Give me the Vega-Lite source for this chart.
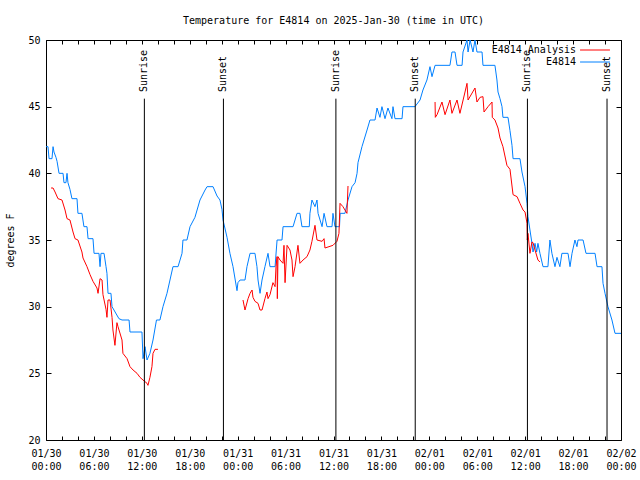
{
  "$schema": "https://vega.github.io/schema/vega-lite/v6.json",
  "width": 575,
  "height": 400,
  "autosize": {"type": "none"},
  "padding": {"left": 46, "top": 40, "right": 19, "bottom": 40},
  "background": "white",
  "title": {"text": "Temperature for E4814 on 2025-Jan-30 (time in UTC)", "font": "DejaVu Sans Mono", "fontSize": 10, "fontWeight": "normal", "anchor": "middle", "offset": 9, "color": "black"},
  "config": {
    "view": {"stroke": "black", "strokeWidth": 1},
    "axis": {"grid": false, "labelFont": "DejaVu Sans Mono", "labelFontSize": 10, "labelColor": "black", "titleFont": "DejaVu Sans Mono", "titleFontSize": 10, "titleFontWeight": "normal", "titleColor": "black", "domainColor": "black", "tickColor": "black"}
  },
  "datasets": {
    "temps": [
      {"t": "2025-01-30T00:00:00Z", "v": 42.0, "s": "E4814"},
      {"t": "2025-01-30T00:15:00Z", "v": 42.0, "s": "E4814"},
      {"t": "2025-01-30T00:23:00Z", "v": 41.1, "s": "E4814"},
      {"t": "2025-01-30T00:45:00Z", "v": 41.1, "s": "E4814"},
      {"t": "2025-01-30T00:53:00Z", "v": 42.0, "s": "E4814"},
      {"t": "2025-01-30T01:00:00Z", "v": 41.6, "s": "E4814"},
      {"t": "2025-01-30T01:15:00Z", "v": 41.2, "s": "E4814"},
      {"t": "2025-01-30T01:23:00Z", "v": 40.9, "s": "E4814"},
      {"t": "2025-01-30T01:38:00Z", "v": 40.0, "s": "E4814"},
      {"t": "2025-01-30T02:08:00Z", "v": 40.0, "s": "E4814"},
      {"t": "2025-01-30T02:15:00Z", "v": 39.3, "s": "E4814"},
      {"t": "2025-01-30T02:30:00Z", "v": 39.3, "s": "E4814"},
      {"t": "2025-01-30T02:38:00Z", "v": 40.0, "s": "E4814"},
      {"t": "2025-01-30T02:45:00Z", "v": 39.3, "s": "E4814"},
      {"t": "2025-01-30T03:00:00Z", "v": 38.8, "s": "E4814"},
      {"t": "2025-01-30T03:15:00Z", "v": 38.1, "s": "E4814"},
      {"t": "2025-01-30T03:53:00Z", "v": 38.1, "s": "E4814"},
      {"t": "2025-01-30T04:00:00Z", "v": 37.0, "s": "E4814"},
      {"t": "2025-01-30T04:30:00Z", "v": 37.0, "s": "E4814"},
      {"t": "2025-01-30T04:45:00Z", "v": 36.0, "s": "E4814"},
      {"t": "2025-01-30T05:08:00Z", "v": 36.0, "s": "E4814"},
      {"t": "2025-01-30T05:16:00Z", "v": 35.1, "s": "E4814"},
      {"t": "2025-01-30T05:53:00Z", "v": 35.1, "s": "E4814"},
      {"t": "2025-01-30T06:01:00Z", "v": 34.0, "s": "E4814"},
      {"t": "2025-01-30T06:38:00Z", "v": 34.0, "s": "E4814"},
      {"t": "2025-01-30T06:46:00Z", "v": 33.0, "s": "E4814"},
      {"t": "2025-01-30T06:53:00Z", "v": 34.0, "s": "E4814"},
      {"t": "2025-01-30T07:16:00Z", "v": 34.0, "s": "E4814"},
      {"t": "2025-01-30T07:31:00Z", "v": 33.0, "s": "E4814"},
      {"t": "2025-01-30T07:38:00Z", "v": 32.5, "s": "E4814"},
      {"t": "2025-01-30T07:46:00Z", "v": 31.0, "s": "E4814"},
      {"t": "2025-01-30T08:08:00Z", "v": 31.0, "s": "E4814"},
      {"t": "2025-01-30T08:16:00Z", "v": 30.0, "s": "E4814"},
      {"t": "2025-01-30T09:08:00Z", "v": 29.1, "s": "E4814"},
      {"t": "2025-01-30T09:31:00Z", "v": 29.0, "s": "E4814"},
      {"t": "2025-01-30T10:24:00Z", "v": 29.0, "s": "E4814"},
      {"t": "2025-01-30T10:31:00Z", "v": 28.1, "s": "E4814"},
      {"t": "2025-01-30T12:01:00Z", "v": 28.1, "s": "E4814"},
      {"t": "2025-01-30T12:09:00Z", "v": 26.1, "s": "E4814"},
      {"t": "2025-01-30T12:24:00Z", "v": 27.0, "s": "E4814"},
      {"t": "2025-01-30T12:39:00Z", "v": 26.0, "s": "E4814"},
      {"t": "2025-01-30T13:01:00Z", "v": 26.5, "s": "E4814"},
      {"t": "2025-01-30T13:24:00Z", "v": 27.5, "s": "E4814"},
      {"t": "2025-01-30T13:50:00Z", "v": 29.0, "s": "E4814"},
      {"t": "2025-01-30T14:16:00Z", "v": 29.0, "s": "E4814"},
      {"t": "2025-01-30T14:39:00Z", "v": 30.0, "s": "E4814"},
      {"t": "2025-01-30T15:09:00Z", "v": 31.0, "s": "E4814"},
      {"t": "2025-01-30T15:54:00Z", "v": 33.0, "s": "E4814"},
      {"t": "2025-01-30T16:32:00Z", "v": 33.0, "s": "E4814"},
      {"t": "2025-01-30T17:02:00Z", "v": 34.0, "s": "E4814"},
      {"t": "2025-01-30T17:09:00Z", "v": 35.0, "s": "E4814"},
      {"t": "2025-01-30T17:39:00Z", "v": 35.0, "s": "E4814"},
      {"t": "2025-01-30T18:02:00Z", "v": 36.0, "s": "E4814"},
      {"t": "2025-01-30T18:39:00Z", "v": 36.7, "s": "E4814"},
      {"t": "2025-01-30T19:17:00Z", "v": 38.0, "s": "E4814"},
      {"t": "2025-01-30T19:55:00Z", "v": 38.75, "s": "E4814"},
      {"t": "2025-01-30T20:10:00Z", "v": 39.0, "s": "E4814"},
      {"t": "2025-01-30T20:55:00Z", "v": 39.0, "s": "E4814"},
      {"t": "2025-01-30T21:25:00Z", "v": 38.3, "s": "E4814"},
      {"t": "2025-01-30T21:47:00Z", "v": 38.0, "s": "E4814"},
      {"t": "2025-01-30T22:02:00Z", "v": 37.3, "s": "E4814"},
      {"t": "2025-01-30T22:10:00Z", "v": 36.5, "s": "E4814"},
      {"t": "2025-01-30T22:40:00Z", "v": 35.2, "s": "E4814"},
      {"t": "2025-01-30T23:02:00Z", "v": 34.0, "s": "E4814"},
      {"t": "2025-01-30T23:25:00Z", "v": 33.0, "s": "E4814"},
      {"t": "2025-01-30T23:55:00Z", "v": 31.2, "s": "E4814"},
      {"t": "2025-01-31T00:02:00Z", "v": 31.8, "s": "E4814"},
      {"t": "2025-01-31T00:18:00Z", "v": 32.0, "s": "E4814"},
      {"t": "2025-01-31T00:55:00Z", "v": 32.0, "s": "E4814"},
      {"t": "2025-01-31T01:10:00Z", "v": 33.0, "s": "E4814"},
      {"t": "2025-01-31T01:33:00Z", "v": 34.0, "s": "E4814"},
      {"t": "2025-01-31T02:10:00Z", "v": 34.0, "s": "E4814"},
      {"t": "2025-01-31T02:25:00Z", "v": 33.0, "s": "E4814"},
      {"t": "2025-01-31T02:33:00Z", "v": 32.0, "s": "E4814"},
      {"t": "2025-01-31T02:48:00Z", "v": 31.0, "s": "E4814"},
      {"t": "2025-01-31T03:03:00Z", "v": 32.0, "s": "E4814"},
      {"t": "2025-01-31T03:25:00Z", "v": 33.0, "s": "E4814"},
      {"t": "2025-01-31T03:48:00Z", "v": 34.0, "s": "E4814"},
      {"t": "2025-01-31T04:03:00Z", "v": 33.0, "s": "E4814"},
      {"t": "2025-01-31T04:41:00Z", "v": 33.0, "s": "E4814"},
      {"t": "2025-01-31T04:56:00Z", "v": 35.0, "s": "E4814"},
      {"t": "2025-01-31T05:33:00Z", "v": 35.0, "s": "E4814"},
      {"t": "2025-01-31T05:41:00Z", "v": 36.0, "s": "E4814"},
      {"t": "2025-01-31T06:56:00Z", "v": 36.0, "s": "E4814"},
      {"t": "2025-01-31T07:26:00Z", "v": 37.0, "s": "E4814"},
      {"t": "2025-01-31T07:48:00Z", "v": 37.0, "s": "E4814"},
      {"t": "2025-01-31T08:03:00Z", "v": 36.0, "s": "E4814"},
      {"t": "2025-01-31T08:58:00Z", "v": 36.0, "s": "E4814"},
      {"t": "2025-01-31T09:03:00Z", "v": 37.0, "s": "E4814"},
      {"t": "2025-01-31T09:18:00Z", "v": 38.0, "s": "E4814"},
      {"t": "2025-01-31T09:41:00Z", "v": 37.5, "s": "E4814"},
      {"t": "2025-01-31T09:56:00Z", "v": 38.0, "s": "E4814"},
      {"t": "2025-01-31T10:04:00Z", "v": 37.0, "s": "E4814"},
      {"t": "2025-01-31T10:34:00Z", "v": 36.0, "s": "E4814"},
      {"t": "2025-01-31T10:49:00Z", "v": 37.0, "s": "E4814"},
      {"t": "2025-01-31T11:11:00Z", "v": 36.0, "s": "E4814"},
      {"t": "2025-01-31T11:49:00Z", "v": 36.0, "s": "E4814"},
      {"t": "2025-01-31T11:56:00Z", "v": 37.0, "s": "E4814"},
      {"t": "2025-01-31T12:11:00Z", "v": 36.0, "s": "E4814"},
      {"t": "2025-01-31T12:45:00Z", "v": 36.0, "s": "E4814"},
      {"t": "2025-01-31T12:50:00Z", "v": 37.0, "s": "E4814"},
      {"t": "2025-01-31T13:26:00Z", "v": 37.0, "s": "E4814"},
      {"t": "2025-01-31T13:49:00Z", "v": 38.0, "s": "E4814"},
      {"t": "2025-01-31T14:19:00Z", "v": 39.0, "s": "E4814"},
      {"t": "2025-01-31T14:42:00Z", "v": 39.3, "s": "E4814"},
      {"t": "2025-01-31T14:57:00Z", "v": 40.0, "s": "E4814"},
      {"t": "2025-01-31T15:04:00Z", "v": 40.8, "s": "E4814"},
      {"t": "2025-01-31T15:34:00Z", "v": 42.0, "s": "E4814"},
      {"t": "2025-01-31T16:12:00Z", "v": 43.25, "s": "E4814"},
      {"t": "2025-01-31T16:34:00Z", "v": 44.0, "s": "E4814"},
      {"t": "2025-01-31T17:12:00Z", "v": 44.0, "s": "E4814"},
      {"t": "2025-01-31T17:27:00Z", "v": 44.9, "s": "E4814"},
      {"t": "2025-01-31T17:49:00Z", "v": 44.2, "s": "E4814"},
      {"t": "2025-01-31T18:04:00Z", "v": 45.0, "s": "E4814"},
      {"t": "2025-01-31T18:27:00Z", "v": 44.1, "s": "E4814"},
      {"t": "2025-01-31T18:49:00Z", "v": 44.9, "s": "E4814"},
      {"t": "2025-01-31T19:19:00Z", "v": 44.1, "s": "E4814"},
      {"t": "2025-01-31T19:27:00Z", "v": 45.0, "s": "E4814"},
      {"t": "2025-01-31T19:42:00Z", "v": 44.1, "s": "E4814"},
      {"t": "2025-01-31T20:35:00Z", "v": 44.1, "s": "E4814"},
      {"t": "2025-01-31T20:42:00Z", "v": 45.0, "s": "E4814"},
      {"t": "2025-01-31T22:12:00Z", "v": 45.0, "s": "E4814"},
      {"t": "2025-01-31T22:50:00Z", "v": 45.5, "s": "E4814"},
      {"t": "2025-01-31T23:12:00Z", "v": 46.25, "s": "E4814"},
      {"t": "2025-01-31T23:42:00Z", "v": 47.0, "s": "E4814"},
      {"t": "2025-02-01T00:05:00Z", "v": 48.0, "s": "E4814"},
      {"t": "2025-02-01T00:20:00Z", "v": 47.25, "s": "E4814"},
      {"t": "2025-02-01T00:43:00Z", "v": 48.1, "s": "E4814"},
      {"t": "2025-02-01T02:35:00Z", "v": 48.1, "s": "E4814"},
      {"t": "2025-02-01T02:50:00Z", "v": 49.1, "s": "E4814"},
      {"t": "2025-02-01T03:13:00Z", "v": 49.1, "s": "E4814"},
      {"t": "2025-02-01T03:28:00Z", "v": 48.1, "s": "E4814"},
      {"t": "2025-02-01T04:06:00Z", "v": 48.1, "s": "E4814"},
      {"t": "2025-02-01T04:13:00Z", "v": 49.1, "s": "E4814"},
      {"t": "2025-02-01T04:43:00Z", "v": 50.0, "s": "E4814"},
      {"t": "2025-02-01T04:51:00Z", "v": 49.1, "s": "E4814"},
      {"t": "2025-02-01T05:06:00Z", "v": 50.0, "s": "E4814"},
      {"t": "2025-02-01T05:28:00Z", "v": 49.1, "s": "E4814"},
      {"t": "2025-02-01T05:43:00Z", "v": 50.0, "s": "E4814"},
      {"t": "2025-02-01T05:58:00Z", "v": 49.1, "s": "E4814"},
      {"t": "2025-02-01T06:36:00Z", "v": 49.1, "s": "E4814"},
      {"t": "2025-02-01T06:43:00Z", "v": 48.1, "s": "E4814"},
      {"t": "2025-02-01T08:13:00Z", "v": 48.1, "s": "E4814"},
      {"t": "2025-02-01T08:28:00Z", "v": 47.0, "s": "E4814"},
      {"t": "2025-02-01T08:36:00Z", "v": 46.1, "s": "E4814"},
      {"t": "2025-02-01T08:51:00Z", "v": 45.6, "s": "E4814"},
      {"t": "2025-02-01T09:06:00Z", "v": 45.0, "s": "E4814"},
      {"t": "2025-02-01T09:13:00Z", "v": 44.2, "s": "E4814"},
      {"t": "2025-02-01T09:51:00Z", "v": 44.2, "s": "E4814"},
      {"t": "2025-02-01T10:06:00Z", "v": 43.2, "s": "E4814"},
      {"t": "2025-02-01T10:21:00Z", "v": 42.1, "s": "E4814"},
      {"t": "2025-02-01T10:29:00Z", "v": 41.1, "s": "E4814"},
      {"t": "2025-02-01T11:21:00Z", "v": 41.1, "s": "E4814"},
      {"t": "2025-02-01T11:36:00Z", "v": 40.1, "s": "E4814"},
      {"t": "2025-02-01T11:59:00Z", "v": 39.0, "s": "E4814"},
      {"t": "2025-02-01T12:14:00Z", "v": 37.75, "s": "E4814"},
      {"t": "2025-02-01T12:21:00Z", "v": 36.75, "s": "E4814"},
      {"t": "2025-02-01T12:36:00Z", "v": 35.75, "s": "E4814"},
      {"t": "2025-02-01T12:51:00Z", "v": 34.75, "s": "E4814"},
      {"t": "2025-02-01T12:59:00Z", "v": 34.1, "s": "E4814"},
      {"t": "2025-02-01T13:14:00Z", "v": 34.75, "s": "E4814"},
      {"t": "2025-02-01T13:26:00Z", "v": 34.1, "s": "E4814"},
      {"t": "2025-02-01T13:36:00Z", "v": 34.75, "s": "E4814"},
      {"t": "2025-02-01T13:51:00Z", "v": 34.0, "s": "E4814"},
      {"t": "2025-02-01T14:14:00Z", "v": 33.0, "s": "E4814"},
      {"t": "2025-02-01T14:51:00Z", "v": 33.0, "s": "E4814"},
      {"t": "2025-02-01T15:06:00Z", "v": 35.0, "s": "E4814"},
      {"t": "2025-02-01T15:21:00Z", "v": 34.0, "s": "E4814"},
      {"t": "2025-02-01T15:44:00Z", "v": 33.0, "s": "E4814"},
      {"t": "2025-02-01T15:59:00Z", "v": 33.7, "s": "E4814"},
      {"t": "2025-02-01T16:21:00Z", "v": 33.0, "s": "E4814"},
      {"t": "2025-02-01T16:36:00Z", "v": 34.0, "s": "E4814"},
      {"t": "2025-02-01T17:22:00Z", "v": 34.0, "s": "E4814"},
      {"t": "2025-02-01T17:37:00Z", "v": 33.0, "s": "E4814"},
      {"t": "2025-02-01T17:52:00Z", "v": 34.0, "s": "E4814"},
      {"t": "2025-02-01T18:14:00Z", "v": 35.0, "s": "E4814"},
      {"t": "2025-02-01T18:29:00Z", "v": 34.5, "s": "E4814"},
      {"t": "2025-02-01T18:37:00Z", "v": 35.0, "s": "E4814"},
      {"t": "2025-02-01T19:15:00Z", "v": 35.0, "s": "E4814"},
      {"t": "2025-02-01T19:37:00Z", "v": 34.0, "s": "E4814"},
      {"t": "2025-02-01T20:45:00Z", "v": 34.0, "s": "E4814"},
      {"t": "2025-02-01T21:00:00Z", "v": 33.0, "s": "E4814"},
      {"t": "2025-02-01T21:37:00Z", "v": 33.0, "s": "E4814"},
      {"t": "2025-02-01T21:45:00Z", "v": 31.75, "s": "E4814"},
      {"t": "2025-02-01T22:00:00Z", "v": 31.0, "s": "E4814"},
      {"t": "2025-02-01T22:22:00Z", "v": 30.0, "s": "E4814"},
      {"t": "2025-02-01T22:52:00Z", "v": 29.0, "s": "E4814"},
      {"t": "2025-02-01T23:15:00Z", "v": 28.0, "s": "E4814"},
      {"t": "2025-02-02T00:00:00Z", "v": 28.0, "s": "E4814"},
      {"t": "2025-01-30T00:38:00Z", "v": 38.9, "s": "E4814 Analysis"},
      {"t": "2025-01-30T00:53:00Z", "v": 38.9, "s": "E4814 Analysis"},
      {"t": "2025-01-30T01:08:00Z", "v": 38.6, "s": "E4814 Analysis"},
      {"t": "2025-01-30T01:30:00Z", "v": 38.1, "s": "E4814 Analysis"},
      {"t": "2025-01-30T02:00:00Z", "v": 38.0, "s": "E4814 Analysis"},
      {"t": "2025-01-30T02:23:00Z", "v": 37.25, "s": "E4814 Analysis"},
      {"t": "2025-01-30T02:38:00Z", "v": 36.6, "s": "E4814 Analysis"},
      {"t": "2025-01-30T03:00:00Z", "v": 36.5, "s": "E4814 Analysis"},
      {"t": "2025-01-30T03:23:00Z", "v": 35.6, "s": "E4814 Analysis"},
      {"t": "2025-01-30T03:38:00Z", "v": 35.1, "s": "E4814 Analysis"},
      {"t": "2025-01-30T04:00:00Z", "v": 35.0, "s": "E4814 Analysis"},
      {"t": "2025-01-30T04:30:00Z", "v": 34.1, "s": "E4814 Analysis"},
      {"t": "2025-01-30T04:38:00Z", "v": 33.65, "s": "E4814 Analysis"},
      {"t": "2025-01-30T05:08:00Z", "v": 33.0, "s": "E4814 Analysis"},
      {"t": "2025-01-30T05:31:00Z", "v": 32.4, "s": "E4814 Analysis"},
      {"t": "2025-01-30T05:53:00Z", "v": 31.9, "s": "E4814 Analysis"},
      {"t": "2025-01-30T06:23:00Z", "v": 31.4, "s": "E4814 Analysis"},
      {"t": "2025-01-30T06:31:00Z", "v": 31.0, "s": "E4814 Analysis"},
      {"t": "2025-01-30T06:46:00Z", "v": 32.1, "s": "E4814 Analysis"},
      {"t": "2025-01-30T07:01:00Z", "v": 32.0, "s": "E4814 Analysis"},
      {"t": "2025-01-30T07:08:00Z", "v": 30.9, "s": "E4814 Analysis"},
      {"t": "2025-01-30T07:31:00Z", "v": 29.8, "s": "E4814 Analysis"},
      {"t": "2025-01-30T07:38:00Z", "v": 29.2, "s": "E4814 Analysis"},
      {"t": "2025-01-30T07:46:00Z", "v": 30.5, "s": "E4814 Analysis"},
      {"t": "2025-01-30T08:01:00Z", "v": 30.5, "s": "E4814 Analysis"},
      {"t": "2025-01-30T08:16:00Z", "v": 29.2, "s": "E4814 Analysis"},
      {"t": "2025-01-30T08:23:00Z", "v": 28.25, "s": "E4814 Analysis"},
      {"t": "2025-01-30T08:38:00Z", "v": 27.1, "s": "E4814 Analysis"},
      {"t": "2025-01-30T08:53:00Z", "v": 28.8, "s": "E4814 Analysis"},
      {"t": "2025-01-30T09:01:00Z", "v": 28.5, "s": "E4814 Analysis"},
      {"t": "2025-01-30T09:31:00Z", "v": 27.5, "s": "E4814 Analysis"},
      {"t": "2025-01-30T09:38:00Z", "v": 26.5, "s": "E4814 Analysis"},
      {"t": "2025-01-30T10:09:00Z", "v": 26.1, "s": "E4814 Analysis"},
      {"t": "2025-01-30T10:31:00Z", "v": 25.5, "s": "E4814 Analysis"},
      {"t": "2025-01-30T10:54:00Z", "v": 25.25, "s": "E4814 Analysis"},
      {"t": "2025-01-30T11:24:00Z", "v": 25.0, "s": "E4814 Analysis"},
      {"t": "2025-01-30T11:46:00Z", "v": 24.7, "s": "E4814 Analysis"},
      {"t": "2025-01-30T12:09:00Z", "v": 24.5, "s": "E4814 Analysis"},
      {"t": "2025-01-30T12:39:00Z", "v": 24.25, "s": "E4814 Analysis"},
      {"t": "2025-01-30T12:46:00Z", "v": 24.1, "s": "E4814 Analysis"},
      {"t": "2025-01-30T13:01:00Z", "v": 24.7, "s": "E4814 Analysis"},
      {"t": "2025-01-30T13:16:00Z", "v": 25.5, "s": "E4814 Analysis"},
      {"t": "2025-01-30T13:24:00Z", "v": 26.5, "s": "E4814 Analysis"},
      {"t": "2025-01-30T13:39:00Z", "v": 26.8, "s": "E4814 Analysis"},
      {"t": "2025-01-30T14:01:00Z", "v": 26.8, "s": "E4814 Analysis"},
      {"t": "2025-01-30T18:00:00Z", "v": null, "s": "E4814 Analysis"},
      {"t": "2025-01-31T00:40:00Z", "v": 30.5, "s": "E4814 Analysis"},
      {"t": "2025-01-31T00:55:00Z", "v": 29.75, "s": "E4814 Analysis"},
      {"t": "2025-01-31T01:18:00Z", "v": 30.6, "s": "E4814 Analysis"},
      {"t": "2025-01-31T01:33:00Z", "v": 31.0, "s": "E4814 Analysis"},
      {"t": "2025-01-31T01:48:00Z", "v": 31.25, "s": "E4814 Analysis"},
      {"t": "2025-01-31T01:55:00Z", "v": 30.7, "s": "E4814 Analysis"},
      {"t": "2025-01-31T02:10:00Z", "v": 30.4, "s": "E4814 Analysis"},
      {"t": "2025-01-31T02:33:00Z", "v": 30.25, "s": "E4814 Analysis"},
      {"t": "2025-01-31T02:48:00Z", "v": 29.75, "s": "E4814 Analysis"},
      {"t": "2025-01-31T03:03:00Z", "v": 29.75, "s": "E4814 Analysis"},
      {"t": "2025-01-31T03:25:00Z", "v": 30.6, "s": "E4814 Analysis"},
      {"t": "2025-01-31T03:40:00Z", "v": 31.1, "s": "E4814 Analysis"},
      {"t": "2025-01-31T03:48:00Z", "v": 30.6, "s": "E4814 Analysis"},
      {"t": "2025-01-31T04:03:00Z", "v": 30.9, "s": "E4814 Analysis"},
      {"t": "2025-01-31T04:25:00Z", "v": 31.8, "s": "E4814 Analysis"},
      {"t": "2025-01-31T04:41:00Z", "v": 31.5, "s": "E4814 Analysis"},
      {"t": "2025-01-31T04:48:00Z", "v": 33.0, "s": "E4814 Analysis"},
      {"t": "2025-01-31T04:56:00Z", "v": 33.75, "s": "E4814 Analysis"},
      {"t": "2025-01-31T04:58:00Z", "v": 30.6, "s": "E4814 Analysis"},
      {"t": "2025-01-31T05:03:00Z", "v": 33.75, "s": "E4814 Analysis"},
      {"t": "2025-01-31T05:18:00Z", "v": 33.5, "s": "E4814 Analysis"},
      {"t": "2025-01-31T05:41:00Z", "v": 33.25, "s": "E4814 Analysis"},
      {"t": "2025-01-31T05:48:00Z", "v": 34.6, "s": "E4814 Analysis"},
      {"t": "2025-01-31T05:56:00Z", "v": 31.8, "s": "E4814 Analysis"},
      {"t": "2025-01-31T06:11:00Z", "v": 34.6, "s": "E4814 Analysis"},
      {"t": "2025-01-31T06:33:00Z", "v": 34.25, "s": "E4814 Analysis"},
      {"t": "2025-01-31T06:48:00Z", "v": 33.5, "s": "E4814 Analysis"},
      {"t": "2025-01-31T06:56:00Z", "v": 32.25, "s": "E4814 Analysis"},
      {"t": "2025-01-31T07:11:00Z", "v": 33.0, "s": "E4814 Analysis"},
      {"t": "2025-01-31T07:33:00Z", "v": 34.6, "s": "E4814 Analysis"},
      {"t": "2025-01-31T07:48:00Z", "v": 33.25, "s": "E4814 Analysis"},
      {"t": "2025-01-31T08:11:00Z", "v": 33.5, "s": "E4814 Analysis"},
      {"t": "2025-01-31T08:41:00Z", "v": 33.75, "s": "E4814 Analysis"},
      {"t": "2025-01-31T09:03:00Z", "v": 34.25, "s": "E4814 Analysis"},
      {"t": "2025-01-31T09:18:00Z", "v": 34.9, "s": "E4814 Analysis"},
      {"t": "2025-01-31T09:41:00Z", "v": 36.1, "s": "E4814 Analysis"},
      {"t": "2025-01-31T09:56:00Z", "v": 35.0, "s": "E4814 Analysis"},
      {"t": "2025-01-31T10:34:00Z", "v": 34.9, "s": "E4814 Analysis"},
      {"t": "2025-01-31T10:49:00Z", "v": 35.1, "s": "E4814 Analysis"},
      {"t": "2025-01-31T10:56:00Z", "v": 34.4, "s": "E4814 Analysis"},
      {"t": "2025-01-31T11:56:00Z", "v": 34.6, "s": "E4814 Analysis"},
      {"t": "2025-01-31T12:26:00Z", "v": 34.9, "s": "E4814 Analysis"},
      {"t": "2025-01-31T12:41:00Z", "v": 35.5, "s": "E4814 Analysis"},
      {"t": "2025-01-31T12:49:00Z", "v": 37.75, "s": "E4814 Analysis"},
      {"t": "2025-01-31T13:11:00Z", "v": 37.5, "s": "E4814 Analysis"},
      {"t": "2025-01-31T13:41:00Z", "v": 37.0, "s": "E4814 Analysis"},
      {"t": "2025-01-31T13:49:00Z", "v": 39.05, "s": "E4814 Analysis"},
      {"t": "2025-01-31T18:00:00Z", "v": null, "s": "E4814 Analysis"},
      {"t": "2025-02-01T00:43:00Z", "v": 45.35, "s": "E4814 Analysis"},
      {"t": "2025-02-01T00:45:00Z", "v": 44.2, "s": "E4814 Analysis"},
      {"t": "2025-02-01T00:58:00Z", "v": 44.4, "s": "E4814 Analysis"},
      {"t": "2025-02-01T01:35:00Z", "v": 45.35, "s": "E4814 Analysis"},
      {"t": "2025-02-01T01:58:00Z", "v": 44.4, "s": "E4814 Analysis"},
      {"t": "2025-02-01T02:35:00Z", "v": 45.5, "s": "E4814 Analysis"},
      {"t": "2025-02-01T02:50:00Z", "v": 44.5, "s": "E4814 Analysis"},
      {"t": "2025-02-01T03:28:00Z", "v": 45.5, "s": "E4814 Analysis"},
      {"t": "2025-02-01T03:50:00Z", "v": 44.5, "s": "E4814 Analysis"},
      {"t": "2025-02-01T04:28:00Z", "v": 46.1, "s": "E4814 Analysis"},
      {"t": "2025-02-01T04:43:00Z", "v": 46.75, "s": "E4814 Analysis"},
      {"t": "2025-02-01T04:51:00Z", "v": 45.5, "s": "E4814 Analysis"},
      {"t": "2025-02-01T05:43:00Z", "v": 46.4, "s": "E4814 Analysis"},
      {"t": "2025-02-01T05:58:00Z", "v": 45.35, "s": "E4814 Analysis"},
      {"t": "2025-02-01T06:21:00Z", "v": 45.7, "s": "E4814 Analysis"},
      {"t": "2025-02-01T06:43:00Z", "v": 45.75, "s": "E4814 Analysis"},
      {"t": "2025-02-01T06:51:00Z", "v": 44.6, "s": "E4814 Analysis"},
      {"t": "2025-02-01T07:21:00Z", "v": 45.0, "s": "E4814 Analysis"},
      {"t": "2025-02-01T07:51:00Z", "v": 45.35, "s": "E4814 Analysis"},
      {"t": "2025-02-01T07:53:00Z", "v": 44.2, "s": "E4814 Analysis"},
      {"t": "2025-02-01T08:13:00Z", "v": 44.0, "s": "E4814 Analysis"},
      {"t": "2025-02-01T08:36:00Z", "v": 43.4, "s": "E4814 Analysis"},
      {"t": "2025-02-01T08:51:00Z", "v": 42.65, "s": "E4814 Analysis"},
      {"t": "2025-02-01T09:13:00Z", "v": 42.0, "s": "E4814 Analysis"},
      {"t": "2025-02-01T09:43:00Z", "v": 40.6, "s": "E4814 Analysis"},
      {"t": "2025-02-01T10:06:00Z", "v": 40.3, "s": "E4814 Analysis"},
      {"t": "2025-02-01T10:29:00Z", "v": 38.4, "s": "E4814 Analysis"},
      {"t": "2025-02-01T10:59:00Z", "v": 38.25, "s": "E4814 Analysis"},
      {"t": "2025-02-01T11:21:00Z", "v": 37.75, "s": "E4814 Analysis"},
      {"t": "2025-02-01T11:44:00Z", "v": 37.25, "s": "E4814 Analysis"},
      {"t": "2025-02-01T11:59:00Z", "v": 37.1, "s": "E4814 Analysis"},
      {"t": "2025-02-01T12:14:00Z", "v": 36.25, "s": "E4814 Analysis"},
      {"t": "2025-02-01T12:16:00Z", "v": 35.0, "s": "E4814 Analysis"},
      {"t": "2025-02-01T12:21:00Z", "v": 35.5, "s": "E4814 Analysis"},
      {"t": "2025-02-01T12:36:00Z", "v": 34.0, "s": "E4814 Analysis"},
      {"t": "2025-02-01T12:51:00Z", "v": 34.85, "s": "E4814 Analysis"},
      {"t": "2025-02-01T12:59:00Z", "v": 34.8, "s": "E4814 Analysis"},
      {"t": "2025-02-01T13:14:00Z", "v": 34.25, "s": "E4814 Analysis"},
      {"t": "2025-02-01T13:36:00Z", "v": 33.5, "s": "E4814 Analysis"},
      {"t": "2025-02-01T13:51:00Z", "v": 33.35, "s": "E4814 Analysis"}
    ],
    "sun": [
      {"t": "2025-01-30T12:19:00Z", "event": "Sunrise"},
      {"t": "2025-01-30T22:13:00Z", "event": "Sunset"},
      {"t": "2025-01-31T12:18:00Z", "event": "Sunrise"},
      {"t": "2025-01-31T22:14:00Z", "event": "Sunset"},
      {"t": "2025-02-01T12:17:00Z", "event": "Sunrise"},
      {"t": "2025-02-01T22:15:00Z", "event": "Sunset"}
    ]
  },
  "layer": [
    {
      "data": {"name": "temps"},
      "mark": {"type": "line", "strokeWidth": 1},
      "encoding": {
        "x": {"field": "t", "type": "temporal",
              "scale": {"type": "utc", "nice": false, "domain": [{"year": 2025, "month": 1, "date": 30, "utc": true}, {"year": 2025, "month": 2, "date": 2, "utc": true}]},
              "axis": {"orient": "bottom", "title": null, "domain": false, "offset": -4, "tickSize": 4, "tickCount": 100, "labelPadding": 8, "labelOverlap": false, "labelFlush": false, "labelBound": false, "labelLineHeight": 13,
                       "values": [
                         {"year": 2025, "month": 1, "date": 30, "hours": 0, "utc": true},
                         {"year": 2025, "month": 1, "date": 30, "hours": 2, "utc": true},
                         {"year": 2025, "month": 1, "date": 30, "hours": 4, "utc": true},
                         {"year": 2025, "month": 1, "date": 30, "hours": 6, "utc": true},
                         {"year": 2025, "month": 1, "date": 30, "hours": 8, "utc": true},
                         {"year": 2025, "month": 1, "date": 30, "hours": 10, "utc": true},
                         {"year": 2025, "month": 1, "date": 30, "hours": 12, "utc": true},
                         {"year": 2025, "month": 1, "date": 30, "hours": 14, "utc": true},
                         {"year": 2025, "month": 1, "date": 30, "hours": 16, "utc": true},
                         {"year": 2025, "month": 1, "date": 30, "hours": 18, "utc": true},
                         {"year": 2025, "month": 1, "date": 30, "hours": 20, "utc": true},
                         {"year": 2025, "month": 1, "date": 30, "hours": 22, "utc": true},
                         {"year": 2025, "month": 1, "date": 31, "hours": 0, "utc": true},
                         {"year": 2025, "month": 1, "date": 31, "hours": 2, "utc": true},
                         {"year": 2025, "month": 1, "date": 31, "hours": 4, "utc": true},
                         {"year": 2025, "month": 1, "date": 31, "hours": 6, "utc": true},
                         {"year": 2025, "month": 1, "date": 31, "hours": 8, "utc": true},
                         {"year": 2025, "month": 1, "date": 31, "hours": 10, "utc": true},
                         {"year": 2025, "month": 1, "date": 31, "hours": 12, "utc": true},
                         {"year": 2025, "month": 1, "date": 31, "hours": 14, "utc": true},
                         {"year": 2025, "month": 1, "date": 31, "hours": 16, "utc": true},
                         {"year": 2025, "month": 1, "date": 31, "hours": 18, "utc": true},
                         {"year": 2025, "month": 1, "date": 31, "hours": 20, "utc": true},
                         {"year": 2025, "month": 1, "date": 31, "hours": 22, "utc": true},
                         {"year": 2025, "month": 2, "date": 1, "hours": 0, "utc": true},
                         {"year": 2025, "month": 2, "date": 1, "hours": 2, "utc": true},
                         {"year": 2025, "month": 2, "date": 1, "hours": 4, "utc": true},
                         {"year": 2025, "month": 2, "date": 1, "hours": 6, "utc": true},
                         {"year": 2025, "month": 2, "date": 1, "hours": 8, "utc": true},
                         {"year": 2025, "month": 2, "date": 1, "hours": 10, "utc": true},
                         {"year": 2025, "month": 2, "date": 1, "hours": 12, "utc": true},
                         {"year": 2025, "month": 2, "date": 1, "hours": 14, "utc": true},
                         {"year": 2025, "month": 2, "date": 1, "hours": 16, "utc": true},
                         {"year": 2025, "month": 2, "date": 1, "hours": 18, "utc": true},
                         {"year": 2025, "month": 2, "date": 1, "hours": 20, "utc": true},
                         {"year": 2025, "month": 2, "date": 1, "hours": 22, "utc": true},
                         {"year": 2025, "month": 2, "date": 2, "hours": 0, "utc": true}
                       ],
                       "labelExpr": "utchours(datum.value) % 6 == 0 ? [utcFormat(datum.value, '%m/%d'), utcFormat(datum.value, '%H:%M')] : ''"}},
        "y": {"field": "v", "type": "quantitative",
              "scale": {"domain": [20, 50], "nice": false, "zero": false},
              "axis": {"orient": "left", "title": "degrees F", "domain": false, "offset": -5, "tickSize": 5, "values": [20, 25, 30, 35, 40, 45, 50], "labelPadding": 6, "titlePadding": 12}},
        "color": {"field": "s", "type": "nominal",
                  "scale": {"domain": ["E4814 Analysis", "E4814"], "range": ["#ff0000", "#0080ff"]},
                  "legend": {"title": null, "orient": "none", "legendX": 542, "legendY": 3, "symbolType": "M-2.3,0H2.3", "symbolSize": 169, "symbolStrokeWidth": 1, "labelAlign": "right", "labelOffset": -26, "labelFont": "DejaVu Sans Mono", "labelFontSize": 10, "labelColor": "black", "rowPadding": 0, "padding": 0, "labelLimit": 0}}
      }
    },
    {
      "data": {"name": "temps"},
      "mark": {"type": "point", "opacity": 0},
      "encoding": {
        "x": {"field": "t", "type": "temporal",
              "axis": {"orient": "top", "title": null, "labels": false, "domain": false, "offset": -4, "tickSize": 4, "tickCount": 100,
                       "values": [
                         {"year": 2025, "month": 1, "date": 30, "hours": 0, "utc": true},
                         {"year": 2025, "month": 1, "date": 30, "hours": 2, "utc": true},
                         {"year": 2025, "month": 1, "date": 30, "hours": 4, "utc": true},
                         {"year": 2025, "month": 1, "date": 30, "hours": 6, "utc": true},
                         {"year": 2025, "month": 1, "date": 30, "hours": 8, "utc": true},
                         {"year": 2025, "month": 1, "date": 30, "hours": 10, "utc": true},
                         {"year": 2025, "month": 1, "date": 30, "hours": 12, "utc": true},
                         {"year": 2025, "month": 1, "date": 30, "hours": 14, "utc": true},
                         {"year": 2025, "month": 1, "date": 30, "hours": 16, "utc": true},
                         {"year": 2025, "month": 1, "date": 30, "hours": 18, "utc": true},
                         {"year": 2025, "month": 1, "date": 30, "hours": 20, "utc": true},
                         {"year": 2025, "month": 1, "date": 30, "hours": 22, "utc": true},
                         {"year": 2025, "month": 1, "date": 31, "hours": 0, "utc": true},
                         {"year": 2025, "month": 1, "date": 31, "hours": 2, "utc": true},
                         {"year": 2025, "month": 1, "date": 31, "hours": 4, "utc": true},
                         {"year": 2025, "month": 1, "date": 31, "hours": 6, "utc": true},
                         {"year": 2025, "month": 1, "date": 31, "hours": 8, "utc": true},
                         {"year": 2025, "month": 1, "date": 31, "hours": 10, "utc": true},
                         {"year": 2025, "month": 1, "date": 31, "hours": 12, "utc": true},
                         {"year": 2025, "month": 1, "date": 31, "hours": 14, "utc": true},
                         {"year": 2025, "month": 1, "date": 31, "hours": 16, "utc": true},
                         {"year": 2025, "month": 1, "date": 31, "hours": 18, "utc": true},
                         {"year": 2025, "month": 1, "date": 31, "hours": 20, "utc": true},
                         {"year": 2025, "month": 1, "date": 31, "hours": 22, "utc": true},
                         {"year": 2025, "month": 2, "date": 1, "hours": 0, "utc": true},
                         {"year": 2025, "month": 2, "date": 1, "hours": 2, "utc": true},
                         {"year": 2025, "month": 2, "date": 1, "hours": 4, "utc": true},
                         {"year": 2025, "month": 2, "date": 1, "hours": 6, "utc": true},
                         {"year": 2025, "month": 2, "date": 1, "hours": 8, "utc": true},
                         {"year": 2025, "month": 2, "date": 1, "hours": 10, "utc": true},
                         {"year": 2025, "month": 2, "date": 1, "hours": 12, "utc": true},
                         {"year": 2025, "month": 2, "date": 1, "hours": 14, "utc": true},
                         {"year": 2025, "month": 2, "date": 1, "hours": 16, "utc": true},
                         {"year": 2025, "month": 2, "date": 1, "hours": 18, "utc": true},
                         {"year": 2025, "month": 2, "date": 1, "hours": 20, "utc": true},
                         {"year": 2025, "month": 2, "date": 1, "hours": 22, "utc": true},
                         {"year": 2025, "month": 2, "date": 2, "hours": 0, "utc": true}
                       ]}},
        "y": {"field": "v", "type": "quantitative",
              "axis": {"orient": "right", "title": null, "labels": false, "domain": false, "offset": -5, "tickSize": 5, "values": [20, 25, 30, 35, 40, 45, 50]}}
      }
    },
    {
      "data": {"name": "sun"},
      "mark": {"type": "rule", "color": "black", "strokeWidth": 1},
      "encoding": {
        "x": {"field": "t", "type": "temporal", "axis": {"labels": false, "ticks": false, "domain": false, "title": null}},
        "y": {"datum": 20, "type": "quantitative", "axis": {"labels": false, "ticks": false, "domain": false, "title": null}},
        "y2": {"datum": 45.6}
      }
    },
    {
      "data": {"name": "sun"},
      "mark": {"type": "text", "angle": 270, "align": "left", "baseline": "middle", "font": "DejaVu Sans Mono", "fontSize": 10, "color": "black"},
      "encoding": {
        "x": {"field": "t", "type": "temporal", "axis": {"labels": false, "ticks": false, "domain": false, "title": null}},
        "y": {"datum": 46.1, "type": "quantitative", "axis": {"labels": false, "ticks": false, "domain": false, "title": null}},
        "text": {"field": "event"}
      }
    }
  ],
  "resolve": {"axis": {"x": "independent", "y": "independent"}}
}
